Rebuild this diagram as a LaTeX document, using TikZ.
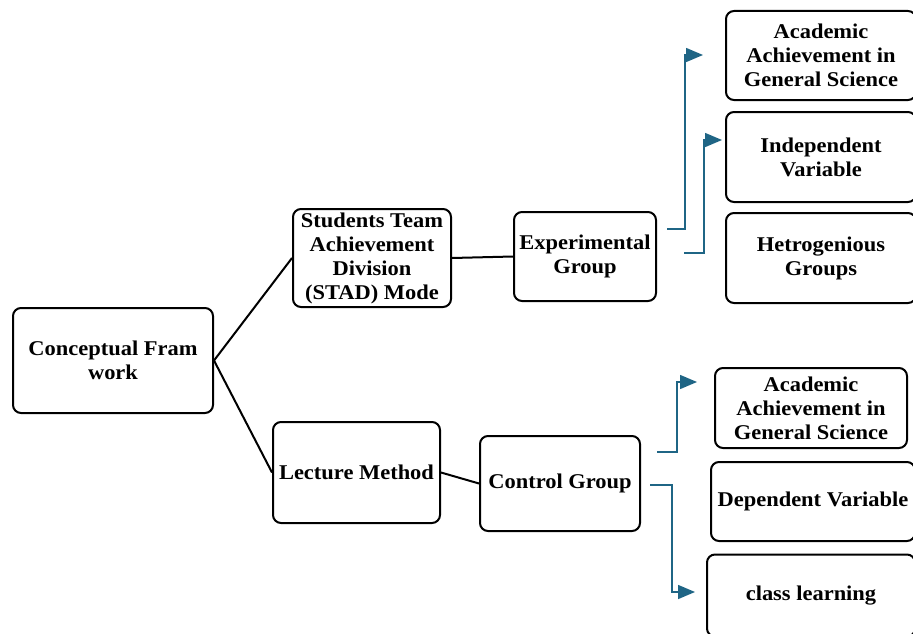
\documentclass[tikz,border=0pt]{standalone}
\usepackage{fontspec}
\setmainfont[FakeStretch=1.07]{Liberation Serif}
\usetikzlibrary{arrows.meta}
\definecolor{arrblue}{HTML}{1F6585}
\begin{document}
\begin{tikzpicture}[x=1pt,y=-1pt,
  box/.style={draw=black,line width=2pt,rounded corners=8pt,align=center,
    inner sep=0pt,font=\bfseries\fontsize{21}{24}\selectfont},
  link/.style={draw=black,line width=2pt},
  arr/.style={draw=arrblue,line width=1.5pt,-{Triangle[length=17pt,width=14pt]}}]
\useasboundingbox (0,0) rectangle (913,634);
\node[box,minimum width=200,minimum height=105] (cf) at (113,360.5) {Conceptual Fram\\work};
\node[box,minimum width=158,minimum height=98] (stad) at (372,258) {Students Team\\Achievement\\Division\\(STAD) Mode};
\node[box,minimum width=167,minimum height=101] (lec) at (356.5,472.5) {Lecture Method};
\node[box,minimum width=142,minimum height=89] (exp) at (585,256.5) {Experimental\\Group};
\node[box,minimum width=160,minimum height=95] (ctl) at (560,483.5) {Control Group};
\node[box,minimum width=190,minimum height=89] (aa1) at (821,55.5) {Academic\\Achievement in\\General Science};
\node[box,minimum width=190,minimum height=90] (iv) at (821,157) {Independent\\Variable};
\node[box,minimum width=190,minimum height=90] (hg) at (821,258) {Hetrogenious\\Groups};
\node[box,minimum width=192,minimum height=80] (aa2) at (811,408) {Academic\\Achievement in\\General Science};
\node[box,minimum width=204,minimum height=79] (dv) at (813,501.5) {Dependent Variable};
\node[box,minimum width=208,minimum height=82] (cl) at (811,595.5) {class learning};
\draw[link] (cf.east) -- (stad.west);
\draw[link] (cf.east) -- (lec.west);
\draw[link] (stad.east) -- (exp.west);
\draw[link] (lec.east) -- (ctl.west);
\coordinate (s1) at (667,229);
\coordinate (t1) at (703,55);
\coordinate (s2) at (684,253);
\coordinate (t2) at (722,140);
\coordinate (s3) at (657,452);
\coordinate (t3) at (697,382);
\coordinate (s4) at (650,485);
\coordinate (t4) at (695,592);
\draw[arr] (s1) -- (685,229) |- (t1);
\draw[arr] (s2) -- (704,253) |- (t2);
\draw[arr] (s3) -- (677,452) |- (t3);
\draw[arr] (s4) -- (672,485) |- (t4);
\end{tikzpicture}
\end{document}
